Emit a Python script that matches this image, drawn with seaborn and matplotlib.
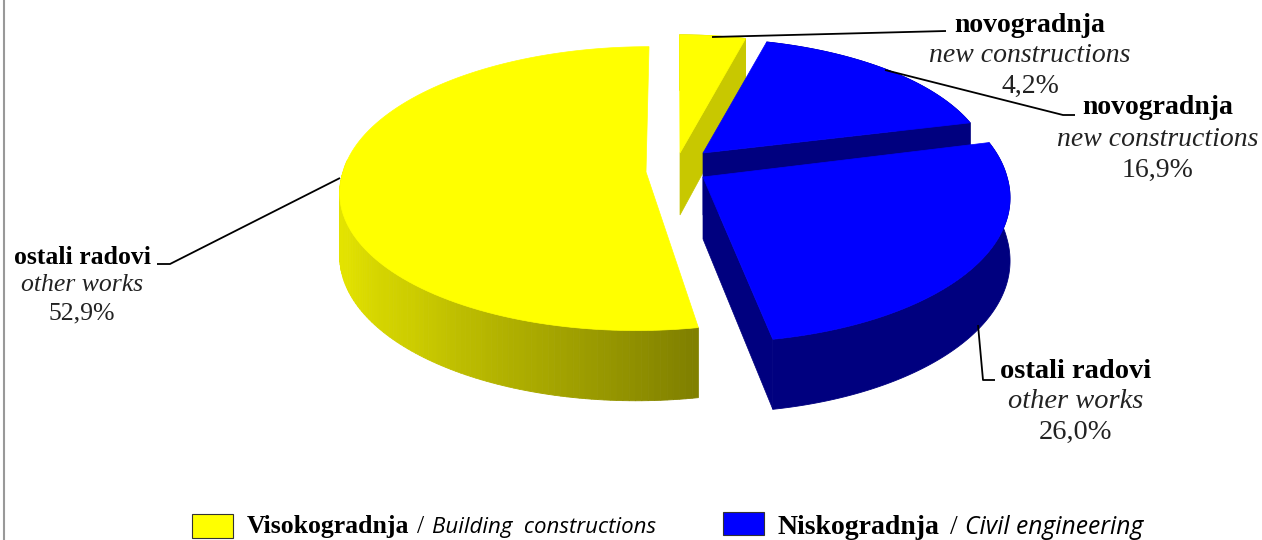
from __future__ import annotations

import matplotlib

matplotlib.use("Agg")

import matplotlib.pyplot as plt
import numpy as np
import seaborn as sns
from matplotlib.patches import Rectangle

# slices clockwise from twelve o'clock
shares = [4.2, 16.9, 26.0, 52.9]
names = ["novogradnja", "novogradnja", "ostali radovi", "ostali radovi"]
names_en = ["new constructions", "new constructions", "other works", "other works"]
percent_labels = ["4,2%", "16,9%", "26,0%", "52,9%"]
legend_bold = ["Visokogradnja", "Niskogradnja"]
legend_italic = ["Building  constructions", "Civil engineering"]

YELLOW = "#ffff00"
BLUE = "#0000ff"
NAVY = "#00007f"
OLIVE = "#c8c800"

# apex x, apex y, radius x, radius y, sideways pull of the front edge, screen pixels
slice_geometry = [
    (680, 153, 282, 132, 0),
    (703, 153, 284, 128, 0),
    (703, 177, 304, 146, 4),
    (646, 172, 303, 140, -6),
]
label_xy = [(1030, 26), (1158, 108), (1076, 372), (82, 257)]
label_size = [20, 20, 20.5, 18.5]
label_step = [30, 31, 30, 28]
VANISH_X = 675
PERSPECTIVE = 0.117
DEPTH = 62


def project(geometry, theta, radius=1.0, drop=False):
    apex_x, apex_y, rx, ry, pull = geometry
    u = radius * np.cos(np.radians(theta))
    v = radius * np.sin(np.radians(theta))
    d = 1 / (1 + PERSPECTIVE * v)
    x = VANISH_X + (apex_x - VANISH_X + rx * u) * d + pull * max(-v, 0)
    y = apex_y - ry * v * d + (DEPTH * d if drop else 0)
    return x, y


def arc(geometry, start, stop, drop=False, n=120):
    thetas = np.linspace(start, stop, n)
    return np.array([project(geometry, t, drop=drop) for t in thetas])


def draw_slice(ax, geometry, start, stop, wall_start, top, wall_colors, cut_color, cuts):
    # cut faces first, then rim strips, top surface last
    for theta in cuts:
        apex = project(geometry, theta, radius=0)
        apex_low = project(geometry, theta, radius=0, drop=True)
        edge = project(geometry, theta)
        edge_low = project(geometry, theta, drop=True)
        ax.fill(*zip(apex, edge, edge_low, apex_low), color=cut_color, lw=0.5)
    bounds = np.linspace(wall_start, stop, len(wall_colors) + 1)
    sub_points = max(2, 120 // len(wall_colors))
    for i, color in enumerate(wall_colors):
        upper = arc(geometry, bounds[i], bounds[i + 1], n=sub_points)
        lower = arc(geometry, bounds[i], bounds[i + 1], drop=True, n=sub_points)
        strip = np.vstack([upper, lower[::-1]])
        ax.fill(strip[:, 0], strip[:, 1], color=color, lw=0.6)
    rim = arc(geometry, start, stop)
    apex = project(geometry, start, radius=0)
    outline = np.vstack([[apex], rim])
    ax.fill(outline[:, 0], outline[:, 1], color=top, lw=0.5)


def main() -> None:
    sns.set_theme(style="white")
    figure, ax = plt.subplots(figsize=(12.62, 5.40), dpi=100)
    figure.subplots_adjust(left=0, right=1, bottom=0, top=1)
    ax.set_xlim(0, 1262)
    ax.set_ylim(540, 0)
    ax.set_axis_off()

    edges = 90 - np.concatenate([[0], np.cumsum(shares)]) * 3.6
    yellow_wall = sns.blend_palette(
        ["#e6e600", "#e2e200", "#cccc00", "#a8a800", "#808000"], n_colors=100
    )
    styles = [
        (YELLOW, [OLIVE], OLIVE),
        (BLUE, [NAVY], NAVY),
        (BLUE, [NAVY], NAVY),
        (YELLOW, yellow_wall, OLIVE),
    ]
    # only the cut faces that turn towards the viewer get drawn
    visible_cuts = [[edges[1]], [edges[2]], [edges[3]], []]
    # back slices first so the front ones sit over them
    for index in (0, 3, 1, 2):
        top, walls, cut = styles[index]
        start, stop = edges[index + 1], edges[index]
        wall_start = start
        if index == 3:
            # big slice runs from the back round to the front cut, rim only shows from the left
            start, stop = edges[4] + 360, edges[3] + 360
            wall_start = 175
        draw_slice(ax, slice_geometry[index], start, stop, wall_start, top, walls, cut,
                   visible_cuts[index])

    # leader lines
    leaders = [
        ([712, 946], [37, 31]),
        ([885, 1063, 1075], [70, 115, 115]),
        ([978, 983, 995], [325, 380, 380]),
        ([340, 170, 157], [178, 264, 264]),
    ]
    for xs, ys in leaders:
        ax.plot(xs, ys, color="black", lw=1.3, solid_capstyle="butt")

    for i, (x, y) in enumerate(label_xy):
        size, step = label_size[i], label_step[i]
        ax.text(x, y, names[i], family="Liberation Serif", weight="bold", fontsize=size,
                ha="center", va="center", color="black")
        ax.text(x, y + step, names_en[i], family="Liberation Serif", style="italic", fontsize=size,
                ha="center", va="center", color="#222222")
        ax.text(x, y + 2 * step, percent_labels[i], family="Liberation Serif", fontsize=size,
                ha="center", va="center", color="#222222")

    # legend
    ax.add_patch(Rectangle((192, 514), 41, 24, facecolor=YELLOW, edgecolor="#333333", lw=0.8))
    ax.add_patch(Rectangle((723, 512), 41, 23, facecolor=BLUE, edgecolor="#333333", lw=0.8))
    for x, x_slash, x_italic, bold, italic, bold_size, italic_size in zip(
        [247, 777], [417, 950], [432, 965], legend_bold, legend_italic, [18.5, 20], [16, 17.7]
    ):
        ax.text(x, 527, bold, family="Liberation Serif", weight="bold", fontsize=bold_size,
                ha="left", va="center", color="black")
        ax.text(x_slash, 527, "/", family="Liberation Serif", fontsize=bold_size,
                ha="left", va="center", color="black")
        ax.text(x_italic, 528, italic, family="Open Sans", style="italic", fontsize=italic_size,
                ha="left", va="center", color="black")

    # chart frame, only the left side shows in the crop
    ax.plot([4, 4], [0, 540], color="#999999", lw=1.5)

    figure.savefig("out.png", dpi=100)
    plt.close(figure)


if __name__ == "__main__":
    main()
